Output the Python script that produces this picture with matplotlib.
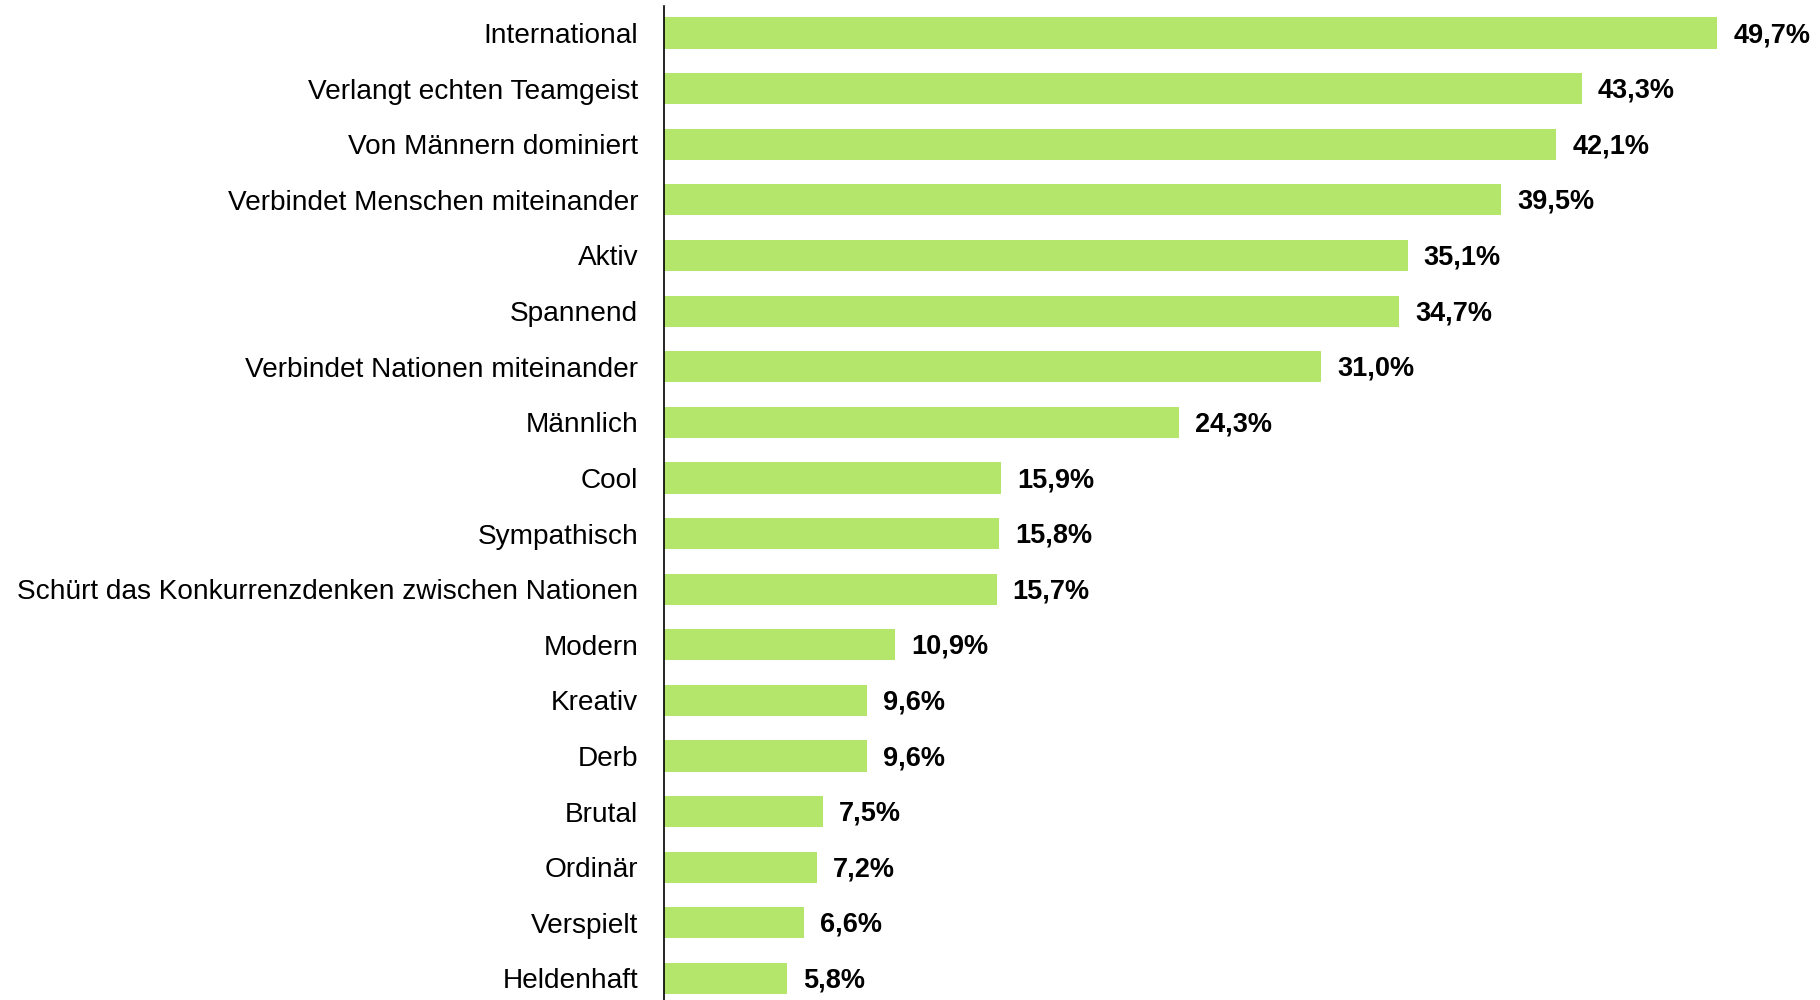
import matplotlib
matplotlib.use('Agg')
import matplotlib.pyplot as plt

# Daten
kategorien = ['International', 'Verlangt echten Teamgeist', 'Von Männern dominiert',
              'Verbindet Menschen miteinander', 'Aktiv', 'Spannend',
              'Verbindet Nationen miteinander', 'Männlich', 'Cool', 'Sympathisch',
              'Schürt das Konkurrenzdenken zwischen Nationen', 'Modern', 'Kreativ',
              'Derb', 'Brutal', 'Ordinär', 'Verspielt', 'Heldenhaft']
werte = [49.7, 43.3, 42.1, 39.5, 35.1, 34.7, 31.0, 24.3, 15.9, 15.8, 15.7,
         10.9, 9.6, 9.6, 7.5, 7.2, 6.6, 5.8]

plt.rcParams['font.family'] = ['Liberation Sans', 'DejaVu Sans']

W, H = 1820, 1000
fig = plt.figure(figsize=(W / 100, H / 100), dpi=100)
ax = fig.add_axes([664 / W, 0, (W - 664) / W, 994 / H])

pos = list(range(len(kategorien)))
ax.barh(pos, werte, height=0.56, color='#b3e66a')

for y, v in zip(pos, werte):
    ax.annotate(f'{v:.1f}%'.replace('.', ','), xy=(v, y), xytext=(11.5, -1.5),
                textcoords='offset points', va='center', ha='left',
                fontsize=19.5, fontweight='bold', color='black')

ax.set_xlim(0, 54.55)
ax.set_ylim(17 + 21.5 / 55.6, -27 / 55.6)
ax.set_yticks(pos)
ax.set_yticklabels(kategorien, fontsize=20.2)
ax.tick_params(axis='y', length=0, pad=18.5)
ax.set_xticks([])
for s in ['top', 'right', 'bottom']:
    ax.spines[s].set_visible(False)
ax.spines['left'].set_linewidth(1.2)

fig.savefig('out.png', dpi=100)
